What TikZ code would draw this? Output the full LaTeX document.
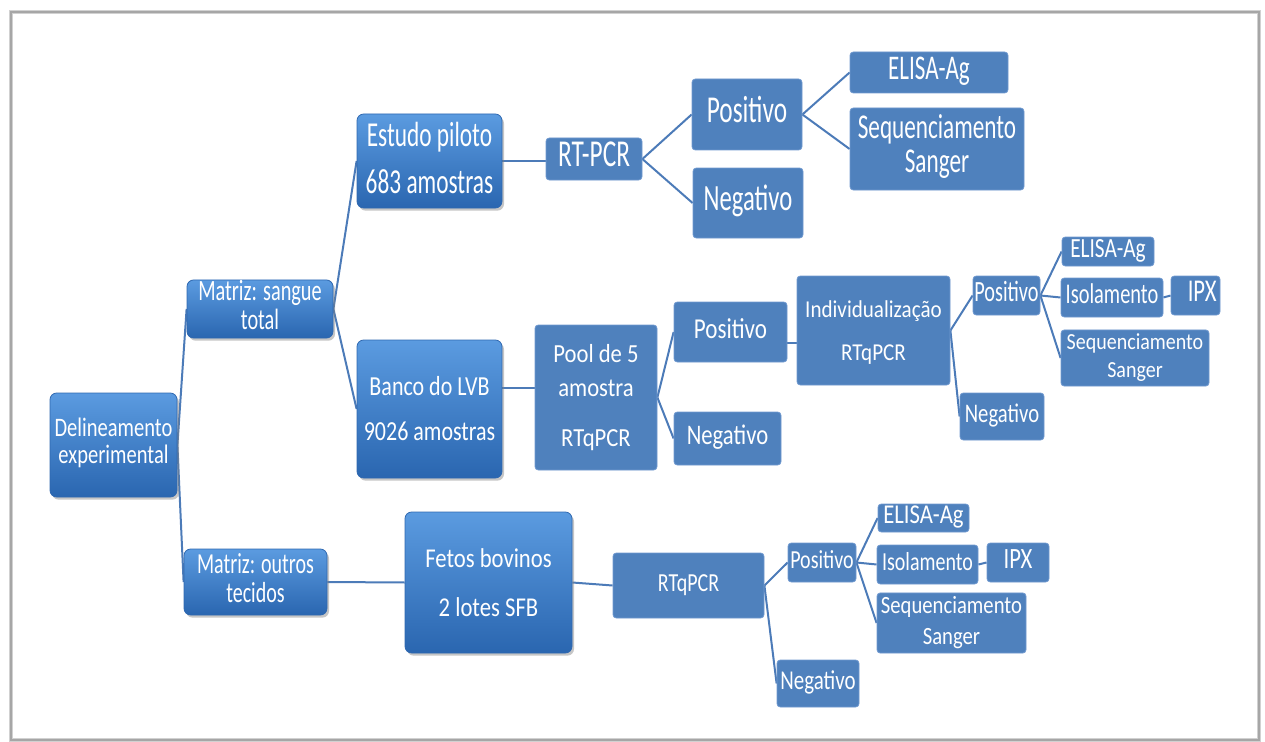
\documentclass[tikz,border=0pt]{standalone}
\usepackage{fontspec}
\setmainfont{Carlito}
\usepackage{graphicx}
\usetikzlibrary{shadows,calc}
\pgfdeclarelayer{back}
\pgfdeclarelayer{background}
\pgfsetlayers{back,background,main}
\definecolor{gtop}{HTML}{5B9BE0}
\definecolor{gbot}{HTML}{2A66B0}
\definecolor{gedge}{HTML}{2F68B0}
\definecolor{flat}{HTML}{4F81BD}
\definecolor{flatedge}{HTML}{7099CF}
\definecolor{lineblue}{HTML}{4C7BB8}
\newcommand\tx[4][1.3]{\scalebox{1}[#1]{\fontsize{#2}{#3}\selectfont\begin{tabular}{@{}c@{}}#4\end{tabular}}}
\begin{document}
\begin{tikzpicture}[x=0.75pt,y=-0.75pt,
  sz/.style 2 args={minimum width=#1*0.75pt, minimum height=#2*0.75pt},
  gbx/.style={rectangle, rounded corners=5pt, inner sep=0pt, top color=gtop, bottom color=gbot, draw=gedge, line width=0.6pt, text=white, drop shadow={shadow xshift=1.5pt, shadow yshift=-2pt, opacity=0.45}},
  fbx/.style={rectangle, rounded corners=2.5pt, inner sep=0pt, fill=flat, draw=flatedge, line width=0.6pt, text=white},
  conn/.style={draw=lineblue, line width=1.5pt}]
\useasboundingbox (0,0) rectangle (1265,742);
\begin{pgfonlayer}{back}
\draw[black!18, line width=2.5pt] (11,12) rectangle (1259,740);
\draw[black!35, line width=0.8pt] (11,12) rectangle (1259,740);
\end{pgfonlayer}

\node[gbx, sz={127}{104}] (delin) at (113.5,445) {\tx{15.4}{15.6}{Delineamento\\experimental}};
\node[gbx, sz={146}{56}] (msang) at (260,309) {\tx[1.45]{15.2}{15}{Matriz: sangue\\total}};
\node[gbx, sz={143}{66}] (mout) at (255.5,582) {\tx[1.45]{15}{15.5}{Matriz: outros\\tecidos}};
\node[gbx, sz={145}{88}] (estudo) at (429.5,161) {\tx[1.5]{17.5}{23.5}{Estudo piloto\\683 amostras}};
\node[gbx, sz={145}{138}] (banco) at (429.5,409) {\tx[1.25]{16.5}{27}{Banco do LVB\\9026 amostras}};
\node[gbx, sz={167}{141}] (fetos) at (488.5,582.5) {\tx[1.2]{17}{30.6}{Fetos bovinos\\2 lotes SFB}};
\node[fbx, sz={96}{42}] (rtpcr) at (594,159) {\tx[1.5]{19}{20}{RT-PCR}};
\node[fbx, sz={110}{71}] (pos1) at (747,114.5) {\tx[1.5]{19}{20}{Positivo}};
\node[fbx, sz={110}{70}] (neg1) at (748,203) {\tx[1.5]{18.5}{20}{Negativo}};
\node[fbx, sz={158}{41}] (elisa1) at (929,72.5) {\tx[1.5]{17.3}{18}{ELISA-Ag}};
\node[fbx, sz={174}{82}] (seq1) at (937,149) {\tx[1.5]{17.4}{17}{Sequenciamento\\Sanger}};
\node[fbx, sz={122}{145}] (pool) at (596,397.5) {\tx[1.15]{17}{22.2}{Pool de 5\\amostra\\[10.4pt]RTqPCR}};
\node[fbx, sz={113}{60}] (pos2) at (730.5,332) {\tx[1.25]{17.3}{18}{Positivo}};
\node[fbx, sz={107}{53}] (neg2) at (727.5,438.5) {\tx[1.25]{17}{18}{Negativo}};
\node[fbx, sz={153}{109}] (indiv) at (873.5,330.5) {\tx[1.15]{15.8}{28}{Individualização\\RTqPCR}};
\node[fbx, sz={67}{39}] (pos3) at (1006.5,295.5) {\tx[1.45]{15.2}{16}{Positivo}};
\node[fbx, sz={84}{47}] (neg3) at (1002,416.5) {\tx{15.5}{16}{Negativo}};
\node[fbx, sz={92}{29}] (elisa2) at (1108,251.5) {\tx{16}{16}{ELISA-Ag}};
\node[fbx, sz={102}{39}] (iso2) at (1112,297.5) {\tx[1.4]{15.3}{16}{Isolamento}};
\node[fbx, sz={49}{39}] (ipx2) at (1195.5,295.5) {\tx[1.4]{17}{17}{\hspace*{10pt}IPX}};
\node[fbx, sz={148}{54}] (seq2) at (1135,358) {\tx[1.15]{15}{18.3}{Sequenciamento\\Sanger}};
\node[fbx, sz={151}{65}] (rtq3) at (688.5,585.5) {\tx{15}{16}{RTqPCR}};
\node[fbx, sz={68}{39}] (pos4) at (822,562.5) {\tx{15}{16}{Positivo}};
\node[fbx, sz={82}{47}] (neg4) at (818,683.5) {\tx{15.7}{16}{Negativo}};
\node[fbx, sz={91}{28}] (elisa3) at (923.5,518) {\tx[1.2]{17}{17}{ELISA-Ag}};
\node[fbx, sz={101}{39}] (iso3) at (927.5,564.5) {\tx{15}{16}{Isolamento}};
\node[fbx, sz={62}{39}] (ipx3) at (1018,562.5) {\tx{17}{17}{IPX}};
\node[fbx, sz={149}{54}] (seq3) at (951.5,623) {\tx[1.2]{15.5}{18.8}{Sequenciamento\\Sanger}};

\begin{pgfonlayer}{background}
\draw[conn] (delin.east) -- (msang.west);
\draw[conn] (delin.east) -- (mout.west);
\draw[conn] (msang.east) -- (estudo.west);
\draw[conn] (msang.east) -- (banco.west);
\draw[conn] (mout.east) -- (fetos.west);
\draw[conn] (estudo.east) -- (estudo.east -| rtpcr.west);
\draw[conn] (rtpcr.east) -- (pos1.west);
\draw[conn] (rtpcr.east) -- (neg1.west);
\draw[conn] (pos1.east) -- (elisa1.west);
\draw[conn] (pos1.east) -- (seq1.west);
\draw[conn] ($(pool.west)+(0,-10)$) coordinate (pa) -- (pa -| banco.east);
\draw[conn] (pool.east) -- (pos2.west);
\draw[conn] (pool.east) -- (neg2.west);
\draw[conn] ($(indiv.west)+(0,12)$) coordinate (pb) -- (pb -| pos2.east);
\draw[conn] (indiv.east) -- (pos3.west);
\draw[conn] (indiv.east) -- (neg3.west);
\draw[conn] (pos3.east) -- (elisa2.west);
\draw[conn] (pos3.east) -- (iso2.west);
\draw[conn] (pos3.east) -- (seq2.west);
\draw[conn] (iso2.east) -- (ipx2.west);
\draw[conn] (fetos.east) -- (rtq3.west);
\draw[conn] (rtq3.east) -- (pos4.west);
\draw[conn] (rtq3.east) -- (neg4.west);
\draw[conn] (pos4.east) -- (elisa3.west);
\draw[conn] (pos4.east) -- (iso3.west);
\draw[conn] (pos4.east) -- (seq3.west);
\draw[conn] (iso3.east) -- (ipx3.west);
\end{pgfonlayer}
\end{tikzpicture}
\end{document}
